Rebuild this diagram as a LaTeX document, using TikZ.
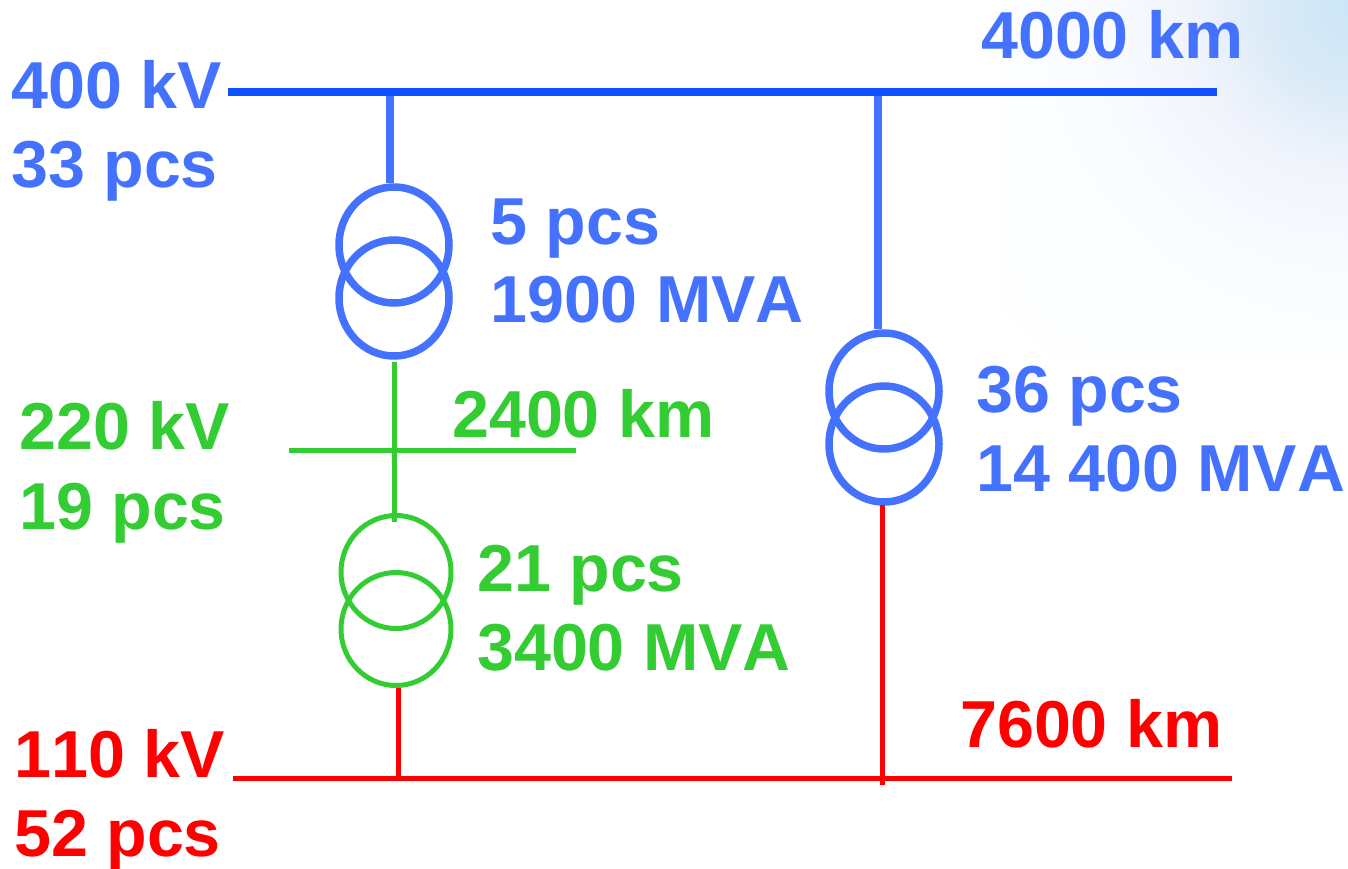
\documentclass[tikz,border=0pt]{standalone}
\usepackage{fontspec}
\setmainfont[Kerning=Off]{Liberation Sans}
\usetikzlibrary{shapes.geometric}
\definecolor{busblue}{HTML}{0F50FF}
\definecolor{hvblue}{HTML}{4472FF}
\definecolor{mvgreen}{HTML}{33CC33}
\definecolor{lvred}{HTML}{FF0000}
\pgfdeclareradialshading{corner}{\pgfpointorigin}{%
  rgb(0bp)=(0.80,0.90,0.97);
  rgb(6bp)=(0.86,0.92,0.97);
  rgb(12bp)=(0.95,0.96,0.99);
  rgb(20bp)=(0.98,0.99,1);
  rgb(36bp)=(1,1,1);
  rgb(50bp)=(1,1,1)}
\tikzset{
  x=1pt,y=-1pt,
  lbl/.style={anchor=base west,inner sep=0pt,font=\fontsize{66.4}{66.4}\selectfont\bfseries},
  winding/.style={ellipse,draw,fill=none,inner sep=0pt},
  bluewinding/.style={winding,draw=hvblue,line width=7.5pt,minimum width=110pt,minimum height=116pt},
  greenwinding/.style={winding,draw=mvgreen,line width=5pt,minimum width=110pt,minimum height=113pt},
  bluebus/.style={draw=busblue,line width=8pt},
  bluefeed/.style={draw=hvblue,line width=8pt},
  greenline/.style={draw=mvgreen,line width=5pt},
  redline/.style={draw=lvred,line width=5pt}
}
\begin{document}
\begin{tikzpicture}
\useasboundingbox (0,0) rectangle (1348,869);
\begin{scope}
  \clip (0,0) rectangle (1348,869);
  \shade[shading=corner] (1000,-340) rectangle (1700,360);
\end{scope}

% buses and junctions
\coordinate (hvL) at (228,92);
\coordinate (hvR) at (1217,92);
\coordinate (hvA) at (390,92);
\coordinate (hvB) at (878,92);
\coordinate (mvL) at (289,450);
\coordinate (mvR) at (576,450);
\coordinate (lvL) at (233,778);
\coordinate (lvR) at (1232,778);
\coordinate (lvA) at (398,778);
\coordinate (lvB) at (882,785);

% transformers
\node[bluewinding] (t1a) at (394,245) {};
\node[bluewinding] (t1b) at (394,298) {};
\node[bluewinding] (t2a) at (884,391) {};
\node[bluewinding] (t2b) at (884,444) {};
\node[greenwinding] (t3a) at (396,572) {};
\node[greenwinding] (t3b) at (396,629) {};

% connectors
\draw[bluefeed] (hvA) -- (hvA |- t1a.north);
\draw[bluefeed] (hvB) -- (hvB |- t2a.north);
\draw[bluebus] (hvL) -- (hvR);
\draw[greenline] (t1b.south) ++(0,2) -- (394,522);
\draw[greenline] (mvL) -- (mvR);
\draw[redline] (lvA |- 0,688) -- (lvA);
\draw[redline] (lvB |- 0,505) -- (lvB);
\draw[redline] (lvL) -- (lvR);

% labels
\node[lbl,text=hvblue] (a1) at (11,109) {400 kV};
\node[lbl,text=hvblue] (a2) at (11,188) {33 pcs};
\node[lbl,text=hvblue] (a3) at (981,59) {4000 km};
\node[lbl,text=hvblue] (a4) at (490,244) {5 pcs};
\node[lbl,text=hvblue] (a5) at (490,322) {1900 MVA};
\node[lbl,text=hvblue] (a6) at (976,412) {36 pcs};
\node[lbl,text=hvblue] (a7) at (976,491) {14 400 MVA};
\node[lbl,text=mvgreen] (b1) at (19,449) {220 kV};
\node[lbl,text=mvgreen] (b2) at (19,529) {19 pcs};
\node[lbl,text=mvgreen] (b3) at (452,437) {2400 km};
\node[lbl,text=mvgreen] (b4) at (477,591) {21 pcs};
\node[lbl,text=mvgreen] (b5) at (477,670) {3400 MVA};
\node[lbl,text=lvred] (c1) at (14,777) {110 kV};
\node[lbl,text=lvred] (c2) at (14,856) {52 pcs};
\node[lbl,text=lvred] (c3) at (960,747) {7600 km};
\end{tikzpicture}
\end{document}
